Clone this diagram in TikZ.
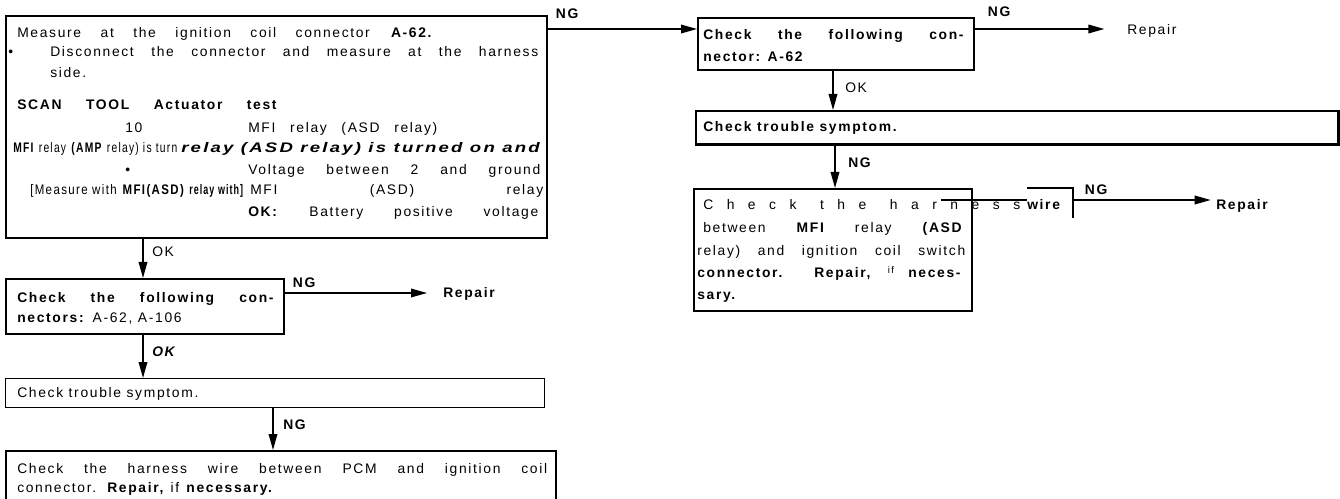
\documentclass[tikz,border=0pt]{standalone}
\usepackage{fontspec}
\setmainfont{Liberation Sans}[LetterSpace=12]
\usetikzlibrary{arrows.meta}
\newlength\px \setlength\px{0.75pt}
\newcommand\jl[2]{\makebox[#1\px][s]{#2}}
\newcommand\sq[2]{\resizebox{#1\px}{\height}{#2}}
\begin{document}
\begin{tikzpicture}[x=0.75pt,y=-0.75pt,font=\fontsize{10.4pt}{12pt}\selectfont,
  box/.style={draw, line width=1.3pt, inner sep=0pt, anchor=north west},
  thinbox/.style={box, line width=0.9pt},
  txt/.style={anchor=base west, inner sep=0pt},
  lbl/.style={inner sep=0pt},
  conn/.style={line width=1pt, -{Triangle[length=12pt,width=6.5pt]}}]
\useasboundingbox (0,0) rectangle (1340,499);
\fill[white] (0,0) rectangle (1340,499);
% boxes
\node[box, minimum width=541\px, minimum height=222\px] (b1) at (5,15) {};
\node[box, minimum width=278\px, minimum height=55\px] (b2) at (5,278) {};
\node[thinbox, minimum width=539\px, minimum height=29\px] (b3) at (5,378) {};
\node[box, minimum width=550\px, minimum height=62\px] (b4) at (5,450) {};
\node[box, minimum width=276\px, minimum height=52\px] (r1) at (697,17) {};
\node[box, minimum width=642\px, minimum height=33\px] (r2) at (695,110) {};
\node[box, minimum width=278\px, minimum height=122\px] (r3) at (693,188) {};
\draw[line width=2.4pt] (r2.south west) -- (r2.south east) -- (r2.north east);
% box 1 text
\node[txt] (t1) at (17,38) {\jl{416}{Measure at the ignition coil connector \textbf{A-62.}}};
\node[txt] (t2b) at (8,57) {\textbullet};
\node[txt] (t2) at (50,57) {\jl{488}{Disconnect the connector and measure at the harness}};
\node[txt] (t3) at (50,78) {side.};
\node[txt] (t4) at (17,110) {\jl{261}{\textbf{SCAN TOOL Actuator test}}};
\node[txt] (t5a) at (125,133) {10};
\node[txt] (t5b) at (248,133) {\jl{189}{MFI relay (ASD relay)}};
\node[txt] (t6a) at (13,153) {\sq{164}{\textbf{MFI} relay \textbf{(AMP} relay) is turn}};
\node[txt] (t6b) at (181,153) {\sq{361}{\textbf{\textit{relay (ASD relay) is turned on and}}}};
\node[txt] (t7b) at (125,175) {\textbullet};
\node[txt] (t7) at (248,175) {\jl{292}{Voltage between 2 and ground}};
\node[txt] (t8a) at (30,195) {\sq{155}{[Measure with \textbf{MFI(ASD)}}};
\node[txt] (t8b) at (189,195) {\sq{55}{\textbf{relay with]}}};
\node[txt] (t8c) at (250,195) {\jl{293}{MFI (ASD) relay}};
\node[txt] (t9) at (248,217) {\jl{290}{\textbf{OK:} Battery positive voltage}};
% left column labels
\node[lbl, anchor=west] (ok1) at (152,252) {OK};
\node[lbl] (ng1) at (568,14) {\textbf{NG}};
\node[lbl] (ng2) at (305,283) {\textbf{NG}};
\node[txt] (rep2) at (443,298) {\textbf{Repair}};
\node[lbl, anchor=west] (ok2) at (152,352) {\textbf{\textit{OK}}};
\node[lbl, anchor=west] (ng3) at (283,425) {\textbf{NG}};
% box 2,3,4 text
\node[txt] (t10) at (17,302) {\jl{258}{\textbf{Check the following con-}}};
\node[txt] (t11) at (17,322) {\textbf{nectors:} A-62, A-106};
\node[txt] (t12) at (17,397) {Check trouble symptom.};
\node[txt] (t13) at (17,473) {\jl{530}{Check the harness wire between PCM and ignition coil}};
\node[txt] (t14) at (17,492) {connector.\ \ \textbf{Repair,} if \textbf{necessary.}};
% right column text
\node[txt] (t15) at (703,40) {\jl{262}{\textbf{Check the following con-}}};
\node[txt] (t16) at (703,62) {\textbf{nector: A-62}};
\node[lbl] (ng4) at (1000,12) {\textbf{NG}};
\node[txt] (rep1) at (1127,35) {Repair};
\node[lbl, anchor=west] (ok3) at (845,88) {OK};
\node[txt] (t17) at (703,132) {\textbf{Check trouble symptom.}};
\node[lbl, anchor=west] (ng5) at (848,163) {\textbf{NG}};
\node[txt] (t18) at (703,210) {\jl{317}{C h e c k\hspace{10\px} t h e\hspace{10\px} h a r n e s s}};
\node[txt] (wire) at (1027,210) {\textbf{wire}};
\node[txt] (t19) at (703,233) {\jl{260}{between \textbf{MFI} relay \textbf{(ASD}}};
\node[txt] (t20) at (697,256) {\jl{268}{relay) and ignition coil switch}};
\node[txt] (t21) at (697,278) {\jl{265}{\textbf{connector. Repair,} \textsuperscript{if} \textbf{neces-}}};
\node[txt] (t22) at (697,300) {\textbf{sary.}};
\node[lbl] (ng6) at (1097,190) {\textbf{NG}};
\node[txt] (rep3) at (1216,210) {\textbf{Repair}};
% bracket and thick stroke at "wire"
\coordinate (wk) at (1073,200);
\draw[line width=1pt] (1027,188) -| (1073,218);
\draw[line width=2.2pt] (941,200) -- (wire.west |- wk);
% connectors
\draw[conn] (b1.east |- 0,29) -- (r1.west |- 0,29);
\draw[conn] (143,0 |- b1.south) -- (143,0 |- b2.north);
\draw[conn, shorten >=12pt] (b2.east |- 0,293) -- (rep2.west |- 0,293);
\draw[conn] (143,0 |- b2.south) -- (143,0 |- b3.north);
\draw[conn] (273,0 |- b3.south) -- (273,0 |- b4.north);
\draw[conn, shorten >=17pt] (r1.east |- 0,29) -- (rep1.west |- 0,29);
\draw[conn] (833,0 |- r1.south) -- (833,0 |- r2.north);
\draw[conn] (835,0 |- r2.south) -- (835,0 |- r3.north);
\draw[conn, shorten >=4pt] (wk) -- (rep3.west |- wk);
\end{tikzpicture}
\end{document}
